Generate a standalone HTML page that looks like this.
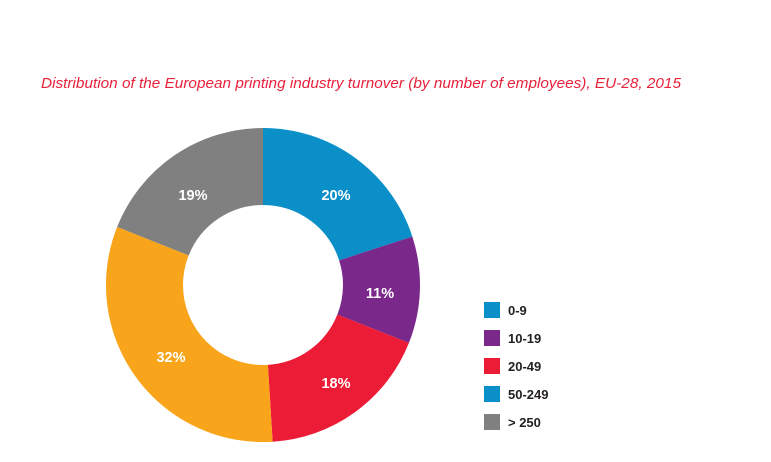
<!DOCTYPE html>
<html><head><meta charset="utf-8"><style>
body{margin:0;background:#fff;width:771px;height:457px;overflow:hidden;font-family:"Liberation Sans",Arial,sans-serif}
</style></head><body>
<svg width="771" height="457" viewBox="0 0 771 457" xmlns="http://www.w3.org/2000/svg">
<text x="41" y="88" font-family="Liberation Sans, Arial, sans-serif" font-style="italic" font-size="15.2" fill="#e8213b" textLength="640" lengthAdjust="spacingAndGlyphs">Distribution of the European printing industry turnover (by number of employees), EU-28, 2015</text>
<g transform="rotate(-90 263 285)" fill="none" stroke-width="77">
<circle cx="263" cy="285" r="118.5" stroke="#0b8fc9" stroke-dasharray="148.91 744.56" stroke-dashoffset="0"/>
<circle cx="263" cy="285" r="118.5" stroke="#7b288b" stroke-dasharray="81.90 744.56" stroke-dashoffset="-148.91"/>
<circle cx="263" cy="285" r="118.5" stroke="#ec1c36" stroke-dasharray="134.02 744.56" stroke-dashoffset="-230.81"/>
<circle cx="263" cy="285" r="118.5" stroke="#f8a51c" stroke-dasharray="238.26 744.56" stroke-dashoffset="-364.83"/>
<circle cx="263" cy="285" r="118.5" stroke="#808081" stroke-dasharray="141.47 744.56" stroke-dashoffset="-603.09"/>
</g>
<g font-family="Liberation Sans, Arial, sans-serif" font-weight="bold" font-size="14.5" fill="#fff" text-anchor="middle">
<text x="336" y="200">20%</text>
<text x="380" y="298">11%</text>
<text x="336" y="388">18%</text>
<text x="171" y="362">32%</text>
<text x="193" y="200">19%</text>
</g>
<g>
<rect x="484" y="302" width="16" height="16" fill="#0b8fc9"/>
<rect x="484" y="330" width="16" height="16" fill="#7b288b"/>
<rect x="484" y="358" width="16" height="16" fill="#ec1c36"/>
<rect x="484" y="386" width="16" height="16" fill="#0b8fc9"/>
<rect x="484" y="414" width="16" height="16" fill="#808081"/>
</g>
<g font-family="Liberation Sans, Arial, sans-serif" font-weight="bold" font-size="13" fill="#231f20">
<text x="508" y="315">0-9</text>
<text x="508" y="343">10-19</text>
<text x="508" y="371">20-49</text>
<text x="508" y="399">50-249</text>
<text x="508" y="427">&gt; 250</text>
</g>
</svg>
</body></html>
